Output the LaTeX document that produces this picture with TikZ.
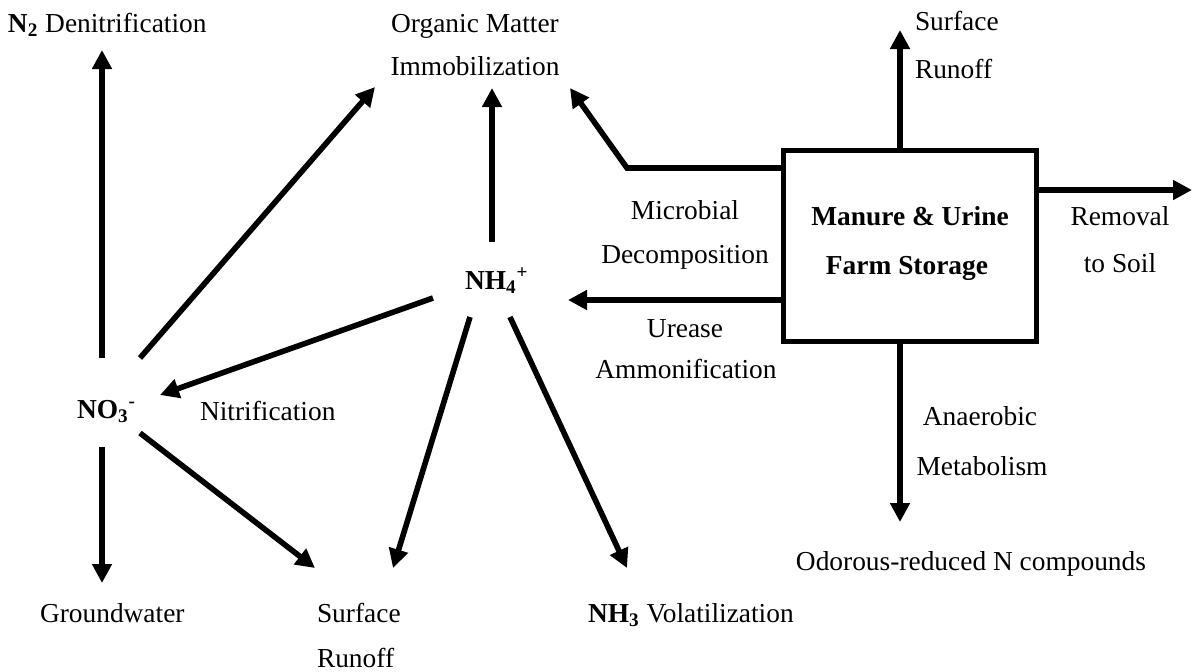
\documentclass[tikz,border=0pt]{standalone}
\usepackage{fontspec}
\setmainfont{Liberation Serif}
\usetikzlibrary{arrows.meta}
\begin{document}
\begin{tikzpicture}[x=0.5pt,y=-0.5pt,
  lbl/.style={inner sep=0pt,outer sep=0pt,font=\fontsize{13.7}{16}\selectfont},
  flow/.style={line width=2.8pt,-{Triangle[length=9.5pt,width=9.5pt]}},
  boxst/.style={draw,line width=2.5pt,minimum width=126.5pt,minimum height=95.5pt,inner sep=0pt}]
\useasboundingbox (0,0) rectangle (1200,671);
% texts
\node[lbl,anchor=base west] (n2) at (8,32) {\textbf{N\textsubscript{2}} Denitrification};
\node[lbl,anchor=base] (om1) at (475,32) {Organic Matter};
\node[lbl,anchor=base] (om2) at (475,75) {Immobilization};
\node[lbl,anchor=base west] (srt1) at (915,30) {Surface};
\node[lbl,anchor=base west] (srt2) at (915,78) {Runoff};
\node[lbl,anchor=base] (mi1) at (685,219) {Microbial};
\node[lbl,anchor=base] (mi2) at (685,263) {Decomposition};
\node[boxst] (box) at (909.5,245.5) {};
\node[lbl,anchor=base] (bx1) at (910,225) {\textbf{Manure \& Urine}};
\node[lbl,anchor=base] (bx2) at (907,274) {\textbf{Farm Storage}};
\node[lbl,anchor=base] (rm1) at (1120,225) {Removal};
\node[lbl,anchor=base] (rm2) at (1120,272) {to Soil};
\node[lbl,anchor=base west] (nh4) at (465,289) {\textbf{NH\textsubscript{4}\textsuperscript{+}}};
\node[lbl,anchor=base] (ur1) at (685,337) {Urease};
\node[lbl,anchor=base] (ur2) at (686,378) {Ammonification};
\node[lbl,anchor=base west] (no3) at (77,418) {\textbf{NO\textsubscript{3}\textsuperscript{-}}};
\node[lbl,anchor=base west] (nit) at (200,420) {Nitrification};
\node[lbl,anchor=base] (an1) at (980,425) {Anaerobic};
\node[lbl,anchor=base] (an2) at (982,475) {Metabolism};
\node[lbl,anchor=base] (odo) at (971,570) {Odorous-reduced N compounds};
\node[lbl,anchor=base west] (gw) at (40,622) {Groundwater};
\node[lbl,anchor=base west] (srb1) at (317,622) {Surface};
\node[lbl,anchor=base west] (srb2) at (317,667) {Runoff};
\node[lbl,anchor=base west] (nh3) at (588,622) {\textbf{NH\textsubscript{3}} Volatilization};
% connector end points
\coordinate (no3u) at (102,358);
\coordinate (n2t) at (102,50);
\coordinate (no3r) at (140,358);
\coordinate (omt1) at (375,87);
\coordinate (nh4l) at (433,298);
\coordinate (no3t) at (160,395);
\coordinate (no3d) at (102,447);
\coordinate (gwt) at (102,583);
\coordinate (no3dr) at (140,433);
\coordinate (srt) at (315,568);
\coordinate (nh4u) at (492,242);
\coordinate (omt2) at (492,88);
\coordinate (nh4dl) at (470,317);
\coordinate (srt2b) at (393,568);
\coordinate (nh4dr) at (510,317);
\coordinate (nh3t) at (627,568);
\coordinate (bxw1) at (783,168);
\coordinate (bend) at (627,168);
\coordinate (omt3) at (570,88);
\coordinate (bxw2) at (783,300);
\coordinate (nh4t) at (568,300);
\coordinate (bxn) at (900,150);
\coordinate (srtt) at (900,30);
\coordinate (bxe) at (1036,190);
\coordinate (rmt) at (1192,190);
\coordinate (bxs) at (900,341);
\coordinate (odt) at (900,522);
% connectors
\draw[flow] (no3u) -- (n2t);
\draw[flow] (no3r) -- (omt1);
\draw[flow] (nh4l) -- (no3t);
\draw[flow] (no3d) -- (gwt);
\draw[flow] (no3dr) -- (srt);
\draw[flow] (nh4u) -- (omt2);
\draw[flow] (nh4dl) -- (srt2b);
\draw[flow] (nh4dr) -- (nh3t);
\draw[flow] (bxw1) -- (bend) -- (omt3);
\draw[flow] (bxw2) -- (nh4t);
\draw[flow] (bxn) -- (srtt);
\draw[flow] (bxe) -- (rmt);
\draw[flow] (bxs) -- (odt);
\end{tikzpicture}
\end{document}
